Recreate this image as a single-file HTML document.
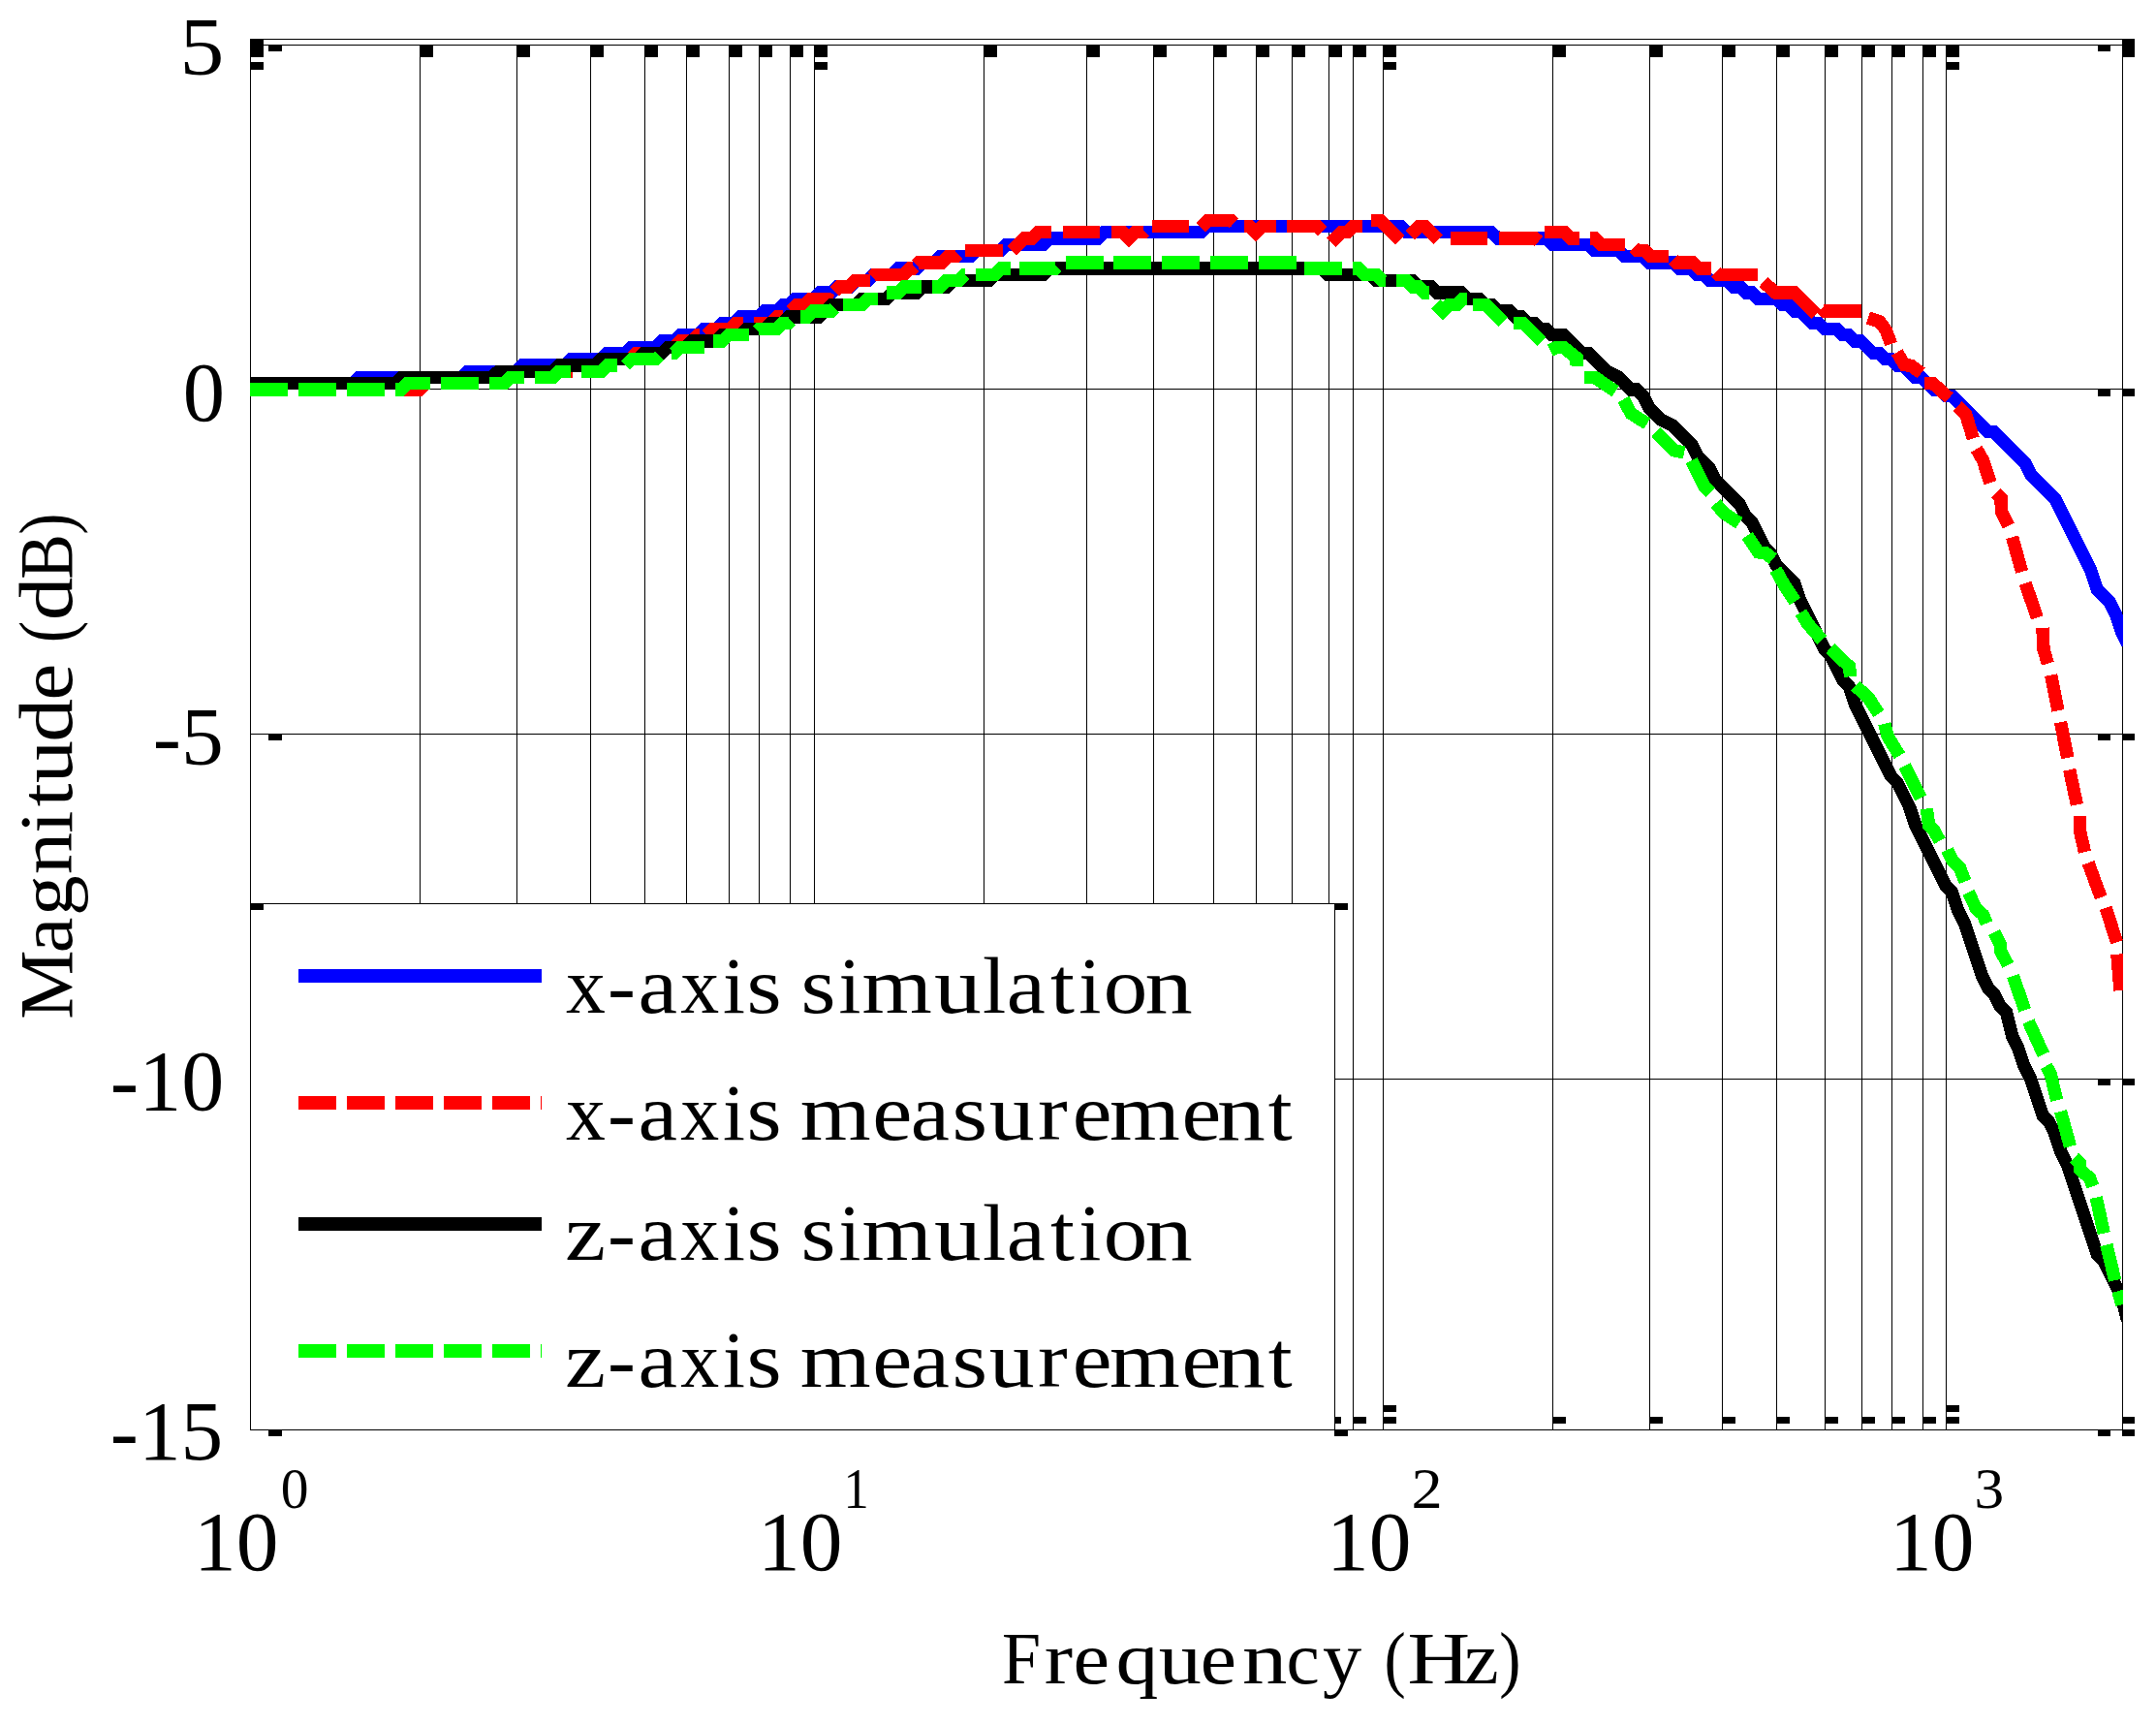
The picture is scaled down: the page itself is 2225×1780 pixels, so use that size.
<!DOCTYPE html>
<html><head><meta charset="utf-8"><title>Frequency response</title>
<style>html,body{margin:0;padding:0;background:#fff}svg{display:block}</style></head>
<body>
<svg xmlns="http://www.w3.org/2000/svg" width="2225" height="1780" viewBox="0 0 2225 1780">
<rect x="0" y="0" width="2225" height="1780" fill="#fff"/>
<g shape-rendering="crispEdges" fill="#000">
<rect x="433" y="46" width="1" height="1429" fill="#000"/>
<rect x="533" y="46" width="1" height="1429" fill="#000"/>
<rect x="609" y="46" width="1" height="1429" fill="#000"/>
<rect x="665" y="46" width="1" height="1429" fill="#000"/>
<rect x="708" y="46" width="1" height="1429" fill="#000"/>
<rect x="752" y="46" width="1" height="1429" fill="#000"/>
<rect x="783" y="46" width="1" height="1429" fill="#000"/>
<rect x="815" y="46" width="1" height="1429" fill="#000"/>
<rect x="1015" y="46" width="1" height="1429" fill="#000"/>
<rect x="1121" y="46" width="1" height="1429" fill="#000"/>
<rect x="1190" y="46" width="1" height="1429" fill="#000"/>
<rect x="1252" y="46" width="1" height="1429" fill="#000"/>
<rect x="1296" y="46" width="1" height="1429" fill="#000"/>
<rect x="1333" y="46" width="1" height="1429" fill="#000"/>
<rect x="1371" y="46" width="1" height="1429" fill="#000"/>
<rect x="1396" y="46" width="1" height="1429" fill="#000"/>
<rect x="1602" y="46" width="1" height="1429" fill="#000"/>
<rect x="1702" y="46" width="1" height="1429" fill="#000"/>
<rect x="1777" y="46" width="1" height="1429" fill="#000"/>
<rect x="1833" y="46" width="1" height="1429" fill="#000"/>
<rect x="1883" y="46" width="1" height="1429" fill="#000"/>
<rect x="1921" y="46" width="1" height="1429" fill="#000"/>
<rect x="1952" y="46" width="1" height="1429" fill="#000"/>
<rect x="1984" y="46" width="1" height="1429" fill="#000"/>
<rect x="840" y="46" width="1" height="1429" fill="#000"/>
<rect x="1427" y="46" width="1" height="1429" fill="#000"/>
<rect x="2008" y="46" width="1" height="1429" fill="#000"/>
<rect x="258" y="46" width="1932" height="1" fill="#000"/>
<rect x="258" y="401" width="1932" height="1" fill="#000"/>
<rect x="258" y="757" width="1932" height="1" fill="#000"/>
<rect x="258" y="1113" width="1932" height="1" fill="#000"/>
<rect x="258" y="40" width="1933" height="1" fill="#000"/>
<rect x="258" y="1475" width="1933" height="1" fill="#000"/>
<rect x="258" y="40" width="1" height="1436" fill="#000"/>
<rect x="2190" y="40" width="1" height="1436" fill="#000"/>
<rect x="433" y="46" width="14" height="13" fill="#000"/>
<rect x="533" y="46" width="14" height="13" fill="#000"/>
<rect x="609" y="46" width="14" height="13" fill="#000"/>
<rect x="665" y="46" width="14" height="13" fill="#000"/>
<rect x="708" y="46" width="14" height="13" fill="#000"/>
<rect x="752" y="46" width="14" height="13" fill="#000"/>
<rect x="783" y="46" width="14" height="13" fill="#000"/>
<rect x="815" y="46" width="14" height="13" fill="#000"/>
<rect x="1015" y="46" width="14" height="13" fill="#000"/>
<rect x="1121" y="46" width="14" height="13" fill="#000"/>
<rect x="1190" y="46" width="14" height="13" fill="#000"/>
<rect x="1252" y="46" width="14" height="13" fill="#000"/>
<rect x="1296" y="46" width="14" height="13" fill="#000"/>
<rect x="1333" y="46" width="14" height="13" fill="#000"/>
<rect x="1371" y="46" width="14" height="13" fill="#000"/>
<rect x="1396" y="46" width="14" height="13" fill="#000"/>
<rect x="1602" y="46" width="14" height="13" fill="#000"/>
<rect x="1702" y="46" width="14" height="13" fill="#000"/>
<rect x="1777" y="46" width="14" height="13" fill="#000"/>
<rect x="1833" y="46" width="14" height="13" fill="#000"/>
<rect x="1883" y="46" width="14" height="13" fill="#000"/>
<rect x="1921" y="46" width="14" height="13" fill="#000"/>
<rect x="1952" y="46" width="14" height="13" fill="#000"/>
<rect x="1984" y="46" width="14" height="13" fill="#000"/>
<rect x="840" y="46" width="14" height="13" fill="#000"/>
<rect x="1427" y="46" width="14" height="13" fill="#000"/>
<rect x="2008" y="46" width="14" height="13" fill="#000"/>
<rect x="840" y="64" width="14" height="8" fill="#000"/>
<rect x="1427" y="64" width="14" height="8" fill="#000"/>
<rect x="2008" y="64" width="14" height="8" fill="#000"/>
<rect x="258" y="40" width="14" height="19" fill="#000"/>
<rect x="258" y="64" width="14" height="8" fill="#000"/>
<rect x="2190" y="40" width="13" height="19" fill="#000"/>
<rect x="277" y="46" width="14" height="7" fill="#000"/>
<rect x="2165" y="46" width="13" height="7" fill="#000"/>
<rect x="1396" y="1462" width="14" height="7" fill="#000"/>
<rect x="1602" y="1462" width="14" height="7" fill="#000"/>
<rect x="1702" y="1462" width="14" height="7" fill="#000"/>
<rect x="1777" y="1462" width="14" height="7" fill="#000"/>
<rect x="1833" y="1462" width="14" height="7" fill="#000"/>
<rect x="1883" y="1462" width="14" height="7" fill="#000"/>
<rect x="1921" y="1462" width="14" height="7" fill="#000"/>
<rect x="1952" y="1462" width="14" height="7" fill="#000"/>
<rect x="1984" y="1462" width="14" height="7" fill="#000"/>
<rect x="1427" y="1462" width="14" height="7" fill="#000"/>
<rect x="2008" y="1462" width="14" height="7" fill="#000"/>
<rect x="1427" y="1450" width="14" height="7" fill="#000"/>
<rect x="2008" y="1450" width="14" height="7" fill="#000"/>
<rect x="2190" y="1462" width="13" height="7" fill="#000"/>
<rect x="2190" y="1475" width="13" height="7" fill="#000"/>
<rect x="2165" y="1475" width="13" height="7" fill="#000"/>
<rect x="277" y="1475" width="14" height="7" fill="#000"/>
<rect x="2165" y="401" width="13" height="8" fill="#000"/>
<rect x="2190" y="401" width="13" height="8" fill="#000"/>
<rect x="2165" y="757" width="13" height="7" fill="#000"/>
<rect x="2190" y="757" width="13" height="7" fill="#000"/>
<rect x="2165" y="1113" width="13" height="7" fill="#000"/>
<rect x="2190" y="1113" width="13" height="7" fill="#000"/>
<rect x="277" y="757" width="14" height="7" fill="#000"/>
</g>
<defs><clipPath id="cp"><rect x="258" y="40" width="1933" height="1435"/></clipPath></defs>
<g clip-path="url(#cp)" fill="none" stroke-width="13.36" stroke-linejoin="miter" stroke-miterlimit="4" stroke-linecap="butt" shape-rendering="crispEdges">
<polyline stroke="#00f" points="258.00,395.70 364.25,395.70 370.50,389.46 476.75,389.46 483.00,383.22 533.00,383.22 539.25,376.98 583.00,376.98 589.25,370.74 620.50,370.74 626.75,364.50 645.50,364.50 651.75,358.26 676.75,358.26 683.00,352.02 695.50,352.02 701.75,345.78 720.50,345.78 726.75,339.54 739.25,339.54 745.50,333.30 758.00,333.30 764.25,327.06 783.00,327.06 789.25,320.82 801.75,320.82 808.00,314.58 814.25,314.58 820.50,308.34 839.25,308.34 845.50,302.10 858.00,302.10 864.25,295.86 876.75,295.86 883.00,289.62 895.50,289.62 901.75,283.38 920.50,283.38 926.75,277.14 945.50,277.14 951.75,270.90 964.25,270.90 970.50,264.66 1001.75,264.66 1008.00,258.42 1033.00,258.42 1039.25,252.18 1076.75,252.18 1083.00,245.94 1133.00,245.94 1139.25,239.70 1239.25,239.70 1245.50,233.46 1445.50,233.46 1451.75,239.70 1539.25,239.70 1545.50,245.94 1595.50,245.94 1601.75,252.18 1639.25,252.18 1645.50,258.42 1670.50,258.42 1676.75,264.66 1695.50,264.66 1701.75,270.90 1726.75,270.90 1733.00,277.14 1745.50,277.14 1751.75,283.38 1758.00,283.38 1764.25,289.62 1783.00,289.62 1789.25,295.86 1795.50,295.86 1801.75,302.10 1808.00,302.10 1814.25,308.34 1833.00,308.34 1839.25,314.58 1845.50,314.58 1851.75,320.82 1858.00,320.82 1864.25,327.06 1870.50,333.30 1876.75,333.30 1883.00,339.54 1895.50,339.54 1901.75,345.78 1908.00,345.78 1914.25,352.02 1920.50,352.02 1926.75,358.26 1933.00,364.50 1939.25,364.50 1945.50,370.74 1951.75,370.74 1958.00,376.98 1964.25,376.98 1970.50,383.22 1976.75,389.46 1983.00,389.46 1989.25,395.70 1995.50,401.94 2001.75,401.94 2008.00,408.18 2014.25,408.18 2020.50,414.42 2026.75,420.66 2033.00,426.90 2039.25,433.14 2045.50,439.38 2051.75,445.62 2058.00,445.62 2064.25,451.86 2070.50,458.10 2076.75,464.34 2083.00,470.58 2089.25,476.82 2095.50,489.30 2101.75,495.54 2108.00,501.78 2114.25,508.02 2120.50,514.26 2126.75,526.74 2133.00,539.22 2139.25,551.70 2145.50,564.18 2151.75,576.66 2158.00,589.14 2164.25,607.86 2170.50,614.10 2176.75,620.34 2183.00,632.82 2189.25,651.54 2195.50,664.02"/>
<polyline stroke="#f00" points="408.00,401.94 433.00,401.94 437.38,397.57"/>
<polyline stroke="#f00" points="586.75,383.22 591.12,383.22"/>
<polyline stroke="#f00" points="639.25,370.74 649.88,370.74 656.12,364.50 670.50,364.50"/>
<polyline stroke="#f00" points="695.50,358.26 701.75,352.02 714.25,352.02 720.50,345.78 722.38,345.78"/>
<polyline stroke="#f00" points="729.25,345.78 735.50,339.54 753.62,339.54 759.88,333.30 766.75,333.30"/>
<polyline stroke="#f00" points="778.00,333.30 795.50,333.30 801.75,327.06 808.00,327.06 810.50,324.56"/>
<polyline stroke="#f00" points="816.12,320.82 822.38,314.58 830.50,314.58 836.75,308.34 854.88,308.34 858.00,310.21"/>
<polyline stroke="#f00" points="861.12,300.85 866.12,295.86 876.12,295.86 882.38,289.62 898.00,289.62"/>
<polyline stroke="#f00" points="900.50,285.88 903.00,283.38 932.38,283.38 938.62,277.14 941.75,277.14 943.94,274.96"/>
<polyline stroke="#f00" points="945.81,273.08 948.00,270.90 971.75,270.90 978.00,264.66 986.12,264.66 988.62,262.16"/>
<polyline stroke="#f00" points="996.12,258.42 1034.88,258.42"/>
<polyline stroke="#f00" points="1044.25,258.42 1056.75,245.94 1064.88,245.94 1071.12,239.70 1084.88,239.70"/>
<polyline stroke="#f00" points="1097.38,239.70 1134.88,239.70"/>
<polyline stroke="#f00" points="1147.38,239.70 1158.62,239.70 1164.88,245.94 1171.12,239.70 1179.88,239.70 1180.81,238.76"/>
<polyline stroke="#f00" points="1189.25,233.46 1226.75,233.46"/>
<polyline stroke="#f00" points="1239.62,234.65 1247.06,227.22 1270.50,227.22 1273.62,230.34"/>
<polyline stroke="#f00" points="1284.25,233.46 1289.88,233.46 1296.12,239.70 1302.38,233.46 1316.75,233.46"/>
<polyline stroke="#f00" points="1328.00,233.46 1359.25,233.46 1364.88,239.08"/>
<polyline stroke="#f00" points="1373.62,250.31 1384.25,239.70 1389.88,239.70 1396.12,233.46 1406.12,233.46"/>
<polyline stroke="#f00" points="1414.88,227.22 1424.25,227.22 1444.88,247.81"/>
<polyline stroke="#f00" points="1454.88,242.82 1464.25,233.46 1470.50,233.46 1484.25,247.19"/>
<polyline stroke="#f00" points="1496.75,245.94 1534.88,245.94"/>
<polyline stroke="#f00" points="1546.75,245.94 1584.25,245.94 1588.00,249.06"/>
<polyline stroke="#f00" points="1593.62,239.70 1614.88,239.70 1621.12,245.94 1629.88,245.94"/>
<polyline stroke="#f00" points="1641.12,245.94 1646.12,245.94 1652.38,252.18 1676.75,252.18"/>
<polyline stroke="#f00" points="1686.12,255.30 1689.25,258.42 1697.38,258.42 1703.62,264.66 1721.75,264.66"/>
<polyline stroke="#f00" points="1726.75,267.78 1729.88,270.90 1747.38,270.90 1753.62,277.14 1765.50,277.14"/>
<polyline stroke="#f00" points="1771.12,280.88 1773.62,283.38 1813.62,283.38"/>
<polyline stroke="#f00" points="1819.88,290.87 1832.38,302.10 1851.75,302.10 1874.25,324.56"/>
<polyline stroke="#f00" points="1879.88,318.32 1882.37,320.82 1921.13,320.82"/>
<polyline stroke="#f00" points="1928.00,328.00 1940.00,332.00 1946.50,341.00 1951.50,355.00"/>
<polyline stroke="#f00" points="1957.70,363.40 1965.40,376.60 1972.30,377.30 1982.70,385.00"/>
<polyline stroke="#f00" points="1986.20,395.40 1994.60,395.40 2011.50,410.70"/>
<polyline stroke="#f00" points="2020.00,419.20 2028.70,427.40 2036.30,452.40"/>
<polyline stroke="#f00" points="2039.70,463.30 2046.30,474.70 2054.00,498.10"/>
<polyline stroke="#f00" points="2059.80,508.70 2065.10,513.70 2065.30,527.60 2072.80,542.60"/>
<polyline stroke="#f00" points="2076.60,554.30 2086.60,590.00"/>
<polyline stroke="#f00" points="2090.20,601.90 2102.30,637.30"/>
<polyline stroke="#f00" points="2107.90,647.80 2109.00,670.10 2113.30,684.70"/>
<polyline stroke="#f00" points="2116.70,696.60 2124.00,733.40"/>
<polyline stroke="#f00" points="2126.50,745.30 2133.80,782.00"/>
<polyline stroke="#f00" points="2135.70,794.30 2143.40,830.40"/>
<polyline stroke="#f00" points="2146.40,842.10 2146.80,858.80 2151.50,879.20"/>
<polyline stroke="#f00" points="2155.10,890.40 2168.20,926.00"/>
<polyline stroke="#f00" points="2173.20,936.70 2184.50,972.30"/>
<polyline stroke="#f00" points="2184.90,984.70 2188.00,1022.10"/>
<polyline stroke="#000" points="258.00,395.70 408.00,395.70 414.25,389.46 508.00,389.46 514.25,383.22 570.50,383.22 576.75,376.98 614.25,376.98 620.50,370.74 658.00,370.74 664.25,364.50 683.00,364.50 689.25,358.26 708.00,358.26 714.25,352.02 739.25,352.02 745.50,345.78 764.25,345.78 770.50,339.54 789.25,339.54 795.50,333.30 808.00,333.30 814.25,327.06 845.50,327.06 851.75,320.82 858.00,314.58 883.00,314.58 889.25,308.34 914.25,308.34 920.50,302.10 945.50,302.10 951.75,295.86 976.75,295.86 983.00,289.62 1020.50,289.62 1026.75,283.38 1076.75,283.38 1083.00,277.14 1364.25,277.14 1370.50,283.38 1414.25,283.38 1420.50,289.62 1458.00,289.62 1464.25,295.86 1476.75,295.86 1483.00,302.10 1508.00,302.10 1514.25,308.34 1526.75,308.34 1533.00,314.58 1539.25,314.58 1545.50,320.82 1558.00,320.82 1564.25,327.06 1570.50,327.06 1576.75,333.30 1583.00,333.30 1589.25,339.54 1595.50,339.54 1601.75,345.78 1614.25,345.78 1633.00,364.50 1639.25,364.50 1658.00,383.22 1670.50,389.46 1683.00,401.94 1689.25,401.94 1695.50,408.18 1701.75,420.66 1714.25,433.14 1726.75,439.38 1733.00,445.62 1745.50,458.10 1751.75,470.58 1764.25,483.06 1770.50,495.54 1795.50,520.50 1801.75,532.98 1808.00,539.22 1814.25,551.70 1820.50,564.18 1826.75,570.42 1833.00,582.90 1839.25,589.14 1845.50,595.38 1851.75,601.62 1858.00,620.34 1864.25,632.82 1870.50,645.30 1876.75,657.78 1883.00,670.26 1889.25,676.50 1895.50,688.98 1901.75,701.46 1908.00,707.70 1914.25,726.42 1920.50,738.90 1926.75,751.38 1933.00,763.86 1939.25,776.34 1945.50,788.82 1951.75,801.30 1958.00,807.54 1964.25,820.02 1970.50,832.50 1976.75,851.22 1983.00,863.70 1989.25,876.18 1995.50,888.66 2001.75,901.14 2008.00,913.62 2014.25,919.86 2020.50,938.58 2026.75,951.06 2033.00,969.78 2039.25,988.50 2045.50,1007.22 2051.75,1019.70 2058.00,1025.94 2064.25,1038.42 2070.50,1044.66 2076.75,1069.62 2083.00,1082.10 2089.25,1100.82 2095.50,1113.30 2101.75,1132.02 2108.00,1150.74 2114.25,1156.98 2120.50,1169.46 2126.75,1188.18 2133.00,1200.66 2139.25,1219.38 2145.50,1238.10 2151.75,1256.82 2158.00,1275.54 2164.25,1294.26 2170.50,1300.50 2176.75,1312.98 2183.00,1325.46 2189.25,1337.94 2195.50,1362.90"/>
<polyline stroke="#0f0" points="258.00,401.94 297.00,401.94"/>
<polyline stroke="#0f0" points="308.00,401.94 347.00,401.94"/>
<polyline stroke="#0f0" points="358.00,401.94 397.00,401.94"/>
<polyline stroke="#0f0" points="408.00,401.94 414.25,401.94 420.50,395.70 444.42,395.70"/>
<polyline stroke="#0f0" points="454.88,395.70 493.88,395.70"/>
<polyline stroke="#0f0" points="504.88,395.70 520.50,395.70 526.75,389.46 541.29,389.46"/>
<polyline stroke="#0f0" points="552.38,389.46 570.50,389.46 576.75,383.22 588.79,383.22"/>
<polyline stroke="#0f0" points="600.19,383.22 620.50,383.22 626.75,376.98 636.61,376.98"/>
<polyline stroke="#0f0" points="645.50,376.98 651.75,370.74 676.75,370.74 680.41,367.09"/>
<polyline stroke="#0f0" points="693.00,364.50 695.50,364.50 701.75,358.26 726.73,358.26"/>
<polyline stroke="#0f0" points="736.12,352.02 745.50,352.02 751.75,345.78 772.54,345.78"/>
<polyline stroke="#0f0" points="781.75,340.79 783.00,339.54 801.75,339.54 808.00,333.30 814.25,333.30 816.66,330.90"/>
<polyline stroke="#0f0" points="826.12,327.06 833.00,327.06 839.25,320.82 858.00,320.82 861.22,317.61"/>
<polyline stroke="#0f0" points="869.88,314.58 889.25,314.58 895.50,308.34 906.29,308.34"/>
<polyline stroke="#0f0" points="914.88,302.10 926.75,302.10 933.00,295.86 951.29,295.86"/>
<polyline stroke="#0f0" points="961.75,295.86 970.50,295.86 976.75,289.62 989.25,289.62 995.50,283.38 995.59,283.38"/>
<polyline stroke="#0f0" points="1006.75,283.38 1026.75,283.38 1033.00,277.14 1043.17,277.14"/>
<polyline stroke="#0f0" points="1052.38,277.14 1089.25,277.14 1090.75,275.64"/>
<polyline stroke="#0f0" points="1099.88,270.90 1138.88,270.90"/>
<polyline stroke="#0f0" points="1148.62,270.90 1187.62,270.90"/>
<polyline stroke="#0f0" points="1199.25,270.90 1238.25,270.90"/>
<polyline stroke="#0f0" points="1249.25,270.90 1288.25,270.90"/>
<polyline stroke="#0f0" points="1299.25,270.90 1338.25,270.90"/>
<polyline stroke="#0f0" points="1346.12,277.14 1385.12,277.14"/>
<polyline stroke="#0f0" points="1396.12,277.14 1401.75,277.14 1408.00,283.38 1420.50,283.38 1426.75,289.62 1429.96,289.62"/>
<polyline stroke="#0f0" points="1441.12,289.62 1451.75,289.62 1458.00,295.86 1464.25,295.86 1470.50,302.10 1474.96,302.10"/>
<polyline stroke="#0f0" points="1481.75,313.33 1489.25,320.82 1495.50,314.58 1503.62,314.58 1509.88,308.34 1513.62,308.34"/>
<polyline stroke="#0f0" points="1519.88,314.58 1533.62,314.58 1551.12,332.05"/>
<polyline stroke="#0f0" points="1562.06,333.30 1571.75,333.30 1591.12,352.64"/>
<polyline stroke="#0f0" points="1599.70,361.50 1605.90,358.40 1613.60,358.40 1627.50,369.60 1626.80,377.90"/>
<polyline stroke="#0f0" points="1635.10,389.70 1646.30,389.70 1667.10,403.70"/>
<polyline stroke="#0f0" points="1675.50,412.00 1683.10,426.60 1699.80,437.10"/>
<polyline stroke="#0f0" points="1708.90,445.40 1727.70,464.90 1738.10,467.00"/>
<polyline stroke="#0f0" points="1745.80,475.30 1759.00,501.80 1765.20,508.40"/>
<polyline stroke="#0f0" points="1770.40,519.60 1780.00,530.00 1794.80,539.70"/>
<polyline stroke="#0f0" points="1803.20,552.60 1814.70,569.90 1822.00,570.50 1829.70,576.80"/>
<polyline stroke="#0f0" points="1832.40,587.70 1841.80,604.40 1852.60,620.60"/>
<polyline stroke="#0f0" points="1858.50,631.90 1865.80,644.00 1880.40,660.30"/>
<polyline stroke="#0f0" points="1888.80,669.10 1908.60,687.90 1909.60,698.30"/>
<polyline stroke="#0f0" points="1914.80,707.70 1928.40,720.20 1938.80,736.50"/>
<polyline stroke="#0f0" points="1944.90,746.70 1948.20,759.90 1960.30,779.70"/>
<polyline stroke="#0f0" points="1965.40,790.10 1982.30,823.50"/>
<polyline stroke="#0f0" points="1988.30,834.40 1990.70,851.80 1996.70,858.10 2001.80,867.80"/>
<polyline stroke="#0f0" points="2009.70,876.90 2015.40,888.70 2022.40,895.00 2028.00,909.60"/>
<polyline stroke="#0f0" points="2031.30,920.80 2039.40,937.40 2046.70,944.10 2050.20,952.70"/>
<polyline stroke="#0f0" points="2057.90,962.20 2064.10,974.30 2064.80,981.20 2072.20,995.80"/>
<polyline stroke="#0f0" points="2077.40,1007.00 2089.70,1042.40"/>
<polyline stroke="#0f0" points="2093.40,1054.00 2108.90,1088.10"/>
<polyline stroke="#0f0" points="2111.70,1099.90 2116.30,1108.70 2122.60,1135.40"/>
<polyline stroke="#0f0" points="2126.50,1146.80 2136.50,1183.00"/>
<polyline stroke="#0f0" points="2140.50,1194.70 2146.60,1200.50 2146.60,1206.80 2156.70,1215.80 2159.90,1224.20"/>
<polyline stroke="#0f0" points="2163.20,1235.60 2171.30,1272.60"/>
<polyline stroke="#0f0" points="2173.90,1284.50 2182.70,1321.20"/>
<polyline stroke="#0f0" points="2185.90,1332.20 2189.90,1346.20"/>
</g>
<g shape-rendering="crispEdges">
<rect x="258" y="932" width="1120" height="544" fill="#000"/>
<rect x="259" y="933" width="1118" height="542" fill="#fff"/>
<rect x="258" y="932" width="14" height="7" fill="#000"/>
<rect x="1377" y="932" width="14" height="7" fill="#000"/>
<rect x="1377" y="1462" width="7" height="7" fill="#000"/>
<rect x="1377" y="1475" width="14" height="7" fill="#000"/>
<rect x="308" y="1000" width="251" height="14" fill="#00f"/>
<rect x="308" y="1256" width="251" height="14" fill="#000"/>
<rect x="308" y="1131" width="39" height="14" fill="#f00"/>
<rect x="308" y="1387" width="39" height="14" fill="#0f0"/>
<rect x="358" y="1131" width="39" height="14" fill="#f00"/>
<rect x="358" y="1387" width="39" height="14" fill="#0f0"/>
<rect x="408" y="1131" width="39" height="14" fill="#f00"/>
<rect x="408" y="1387" width="39" height="14" fill="#0f0"/>
<rect x="458" y="1131" width="39" height="14" fill="#f00"/>
<rect x="458" y="1387" width="39" height="14" fill="#0f0"/>
<rect x="508" y="1131" width="39" height="14" fill="#f00"/>
<rect x="508" y="1387" width="39" height="14" fill="#0f0"/>
<rect x="558" y="1131" width="1" height="14" fill="#f00"/>
<rect x="558" y="1387" width="1" height="14" fill="#0f0"/>
</g>
<g font-family="'Liberation Serif', serif" fill="#000">
<text transform="translate(185.47,76.98) scale(1.1061,1.0182)" font-size="83px" xml:space="preserve">5</text>
<text transform="translate(188.87,434.46) scale(1.0429,1.0446)" font-size="83px" xml:space="preserve">0</text>
<text transform="translate(157.83,788.98) scale(1.0556,1.0182)" font-size="83px" xml:space="preserve">-5</text>
<text transform="translate(113.81,1145.44) scale(1.0619,1.0636)" font-size="83px" xml:space="preserve">-10</text>
<text transform="translate(113.84,1505.96) scale(1.0524,1.0364)" font-size="83px" xml:space="preserve">-15</text>
<text transform="translate(200.03,1619.96) scale(1.0534,1.0357)" font-size="83px" xml:space="preserve">10</text>
<text transform="translate(289.72,1556.29) scale(0.9920,1.0077)" font-size="58px" xml:space="preserve">0</text>
<text transform="translate(782.03,1619.96) scale(1.0534,1.0357)" font-size="83px" xml:space="preserve">10</text>
<text transform="translate(870.48,1556.00) scale(0.9048,1.0263)" font-size="58px" xml:space="preserve">1</text>
<text transform="translate(1369.03,1619.96) scale(1.0534,1.0357)" font-size="83px" xml:space="preserve">10</text>
<text transform="translate(1456.47,1556.00) scale(1.1087,1.0053)" font-size="58px" xml:space="preserve">2</text>
<text transform="translate(1950.03,1619.96) scale(1.0534,1.0357)" font-size="83px" xml:space="preserve">10</text>
<text transform="translate(2037.62,1555.97) scale(1.0583,1.0256)" font-size="58px" xml:space="preserve">3</text>
<text transform="translate(0.00,1737.08) scale(1.0000,0.9718)" font-size="78px" xml:space="preserve"><tspan x="1033.95" textLength="40.05" lengthAdjust="spacingAndGlyphs">F</tspan><tspan x="1077.74" textLength="29.37" lengthAdjust="spacingAndGlyphs">r</tspan><tspan x="1107.54" textLength="37.61" lengthAdjust="spacingAndGlyphs">e</tspan><tspan x="1151.52" textLength="43.9" lengthAdjust="spacingAndGlyphs">q</tspan><tspan x="1195.77" textLength="44.16" lengthAdjust="spacingAndGlyphs">u</tspan><tspan x="1238.67" textLength="37.25" lengthAdjust="spacingAndGlyphs">e</tspan><tspan x="1282.02" textLength="46.37" lengthAdjust="spacingAndGlyphs">n</tspan><tspan x="1327.43" textLength="34.27" lengthAdjust="spacingAndGlyphs">c</tspan><tspan x="1364.97" textLength="40.23" lengthAdjust="spacingAndGlyphs">y</tspan><tspan x="1408.93"> </tspan><tspan x="1428.43" textLength="22.27" lengthAdjust="spacingAndGlyphs">(</tspan><tspan x="1452.51" textLength="64.58" lengthAdjust="spacingAndGlyphs">H</tspan><tspan x="1510.94" textLength="35.66" lengthAdjust="spacingAndGlyphs">z</tspan><tspan x="1547.19" textLength="22.27" lengthAdjust="spacingAndGlyphs">)</tspan></text>
<text transform="translate(73.95,1050.00) rotate(-90) scale(1.0000,1.0028)" font-size="78px" xml:space="preserve"><tspan x="-1.86" textLength="71.49" lengthAdjust="spacingAndGlyphs">M</tspan><tspan x="66.6" textLength="36.97" lengthAdjust="spacingAndGlyphs">a</tspan><tspan x="104.89" textLength="41.67" lengthAdjust="spacingAndGlyphs">g</tspan><tspan x="147.68" textLength="43.33" lengthAdjust="spacingAndGlyphs">n</tspan><tspan x="190.37" textLength="23.12" lengthAdjust="spacingAndGlyphs">i</tspan><tspan x="217.8" textLength="23.84" lengthAdjust="spacingAndGlyphs">t</tspan><tspan x="241.66" textLength="44.38" lengthAdjust="spacingAndGlyphs">u</tspan><tspan x="284.25" textLength="44.79" lengthAdjust="spacingAndGlyphs">d</tspan><tspan x="327.54" textLength="37.61" lengthAdjust="spacingAndGlyphs">e</tspan><tspan x="367.21"> </tspan><tspan x="386.71" textLength="22.4" lengthAdjust="spacingAndGlyphs">(</tspan><tspan x="409.77" textLength="44.57" lengthAdjust="spacingAndGlyphs">d</tspan><tspan x="452.21" textLength="46.6" lengthAdjust="spacingAndGlyphs">B</tspan><tspan x="498.51" textLength="21.9" lengthAdjust="spacingAndGlyphs">)</tspan></text>
<text transform="translate(0.00,1045.00) scale(1.0000,1.0000)" font-size="83px" xml:space="preserve"><tspan x="583.91" textLength="40.88" lengthAdjust="spacingAndGlyphs">x</tspan><tspan x="626.96" textLength="28.9" lengthAdjust="spacingAndGlyphs">-</tspan><tspan x="658.6" textLength="40.53" lengthAdjust="spacingAndGlyphs">a</tspan><tspan x="702.34" textLength="39.94" lengthAdjust="spacingAndGlyphs">x</tspan><tspan x="746.01" textLength="22.95" lengthAdjust="spacingAndGlyphs">i</tspan><tspan x="770.64" textLength="36.17" lengthAdjust="spacingAndGlyphs">s</tspan><tspan x="805.8"> </tspan><tspan x="826.55" textLength="36.04" lengthAdjust="spacingAndGlyphs">s</tspan><tspan x="865.41" textLength="22.95" lengthAdjust="spacingAndGlyphs">i</tspan><tspan x="889.56" textLength="72.29" lengthAdjust="spacingAndGlyphs">m</tspan><tspan x="964.02" textLength="48.84" lengthAdjust="spacingAndGlyphs">u</tspan><tspan x="1013.99" textLength="24.28" lengthAdjust="spacingAndGlyphs">l</tspan><tspan x="1038.74" textLength="40.08" lengthAdjust="spacingAndGlyphs">a</tspan><tspan x="1083.92" textLength="24.95" lengthAdjust="spacingAndGlyphs">t</tspan><tspan x="1113.39" textLength="23.18" lengthAdjust="spacingAndGlyphs">i</tspan><tspan x="1138.81" textLength="45.53" lengthAdjust="spacingAndGlyphs">o</tspan><tspan x="1181.53" textLength="49.25" lengthAdjust="spacingAndGlyphs">n</tspan></text>
<text transform="translate(0.00,1176.00) scale(1.0000,1.0000)" font-size="83px" xml:space="preserve"><tspan x="583.91" textLength="40.88" lengthAdjust="spacingAndGlyphs">x</tspan><tspan x="626.96" textLength="28.9" lengthAdjust="spacingAndGlyphs">-</tspan><tspan x="658.6" textLength="40.53" lengthAdjust="spacingAndGlyphs">a</tspan><tspan x="702.34" textLength="39.94" lengthAdjust="spacingAndGlyphs">x</tspan><tspan x="746.01" textLength="22.95" lengthAdjust="spacingAndGlyphs">i</tspan><tspan x="770.64" textLength="36.17" lengthAdjust="spacingAndGlyphs">s</tspan><tspan x="805.09"> </tspan><tspan x="825.84" textLength="72.92" lengthAdjust="spacingAndGlyphs">m</tspan><tspan x="900.35" textLength="41.12" lengthAdjust="spacingAndGlyphs">e</tspan><tspan x="939.73" textLength="40.19" lengthAdjust="spacingAndGlyphs">a</tspan><tspan x="982.5" textLength="36.66" lengthAdjust="spacingAndGlyphs">s</tspan><tspan x="1020.77" textLength="46.93" lengthAdjust="spacingAndGlyphs">u</tspan><tspan x="1070.98" textLength="30.74" lengthAdjust="spacingAndGlyphs">r</tspan><tspan x="1106.68" textLength="40.77" lengthAdjust="spacingAndGlyphs">e</tspan><tspan x="1144.94" textLength="72.82" lengthAdjust="spacingAndGlyphs">m</tspan><tspan x="1219.58" textLength="40.77" lengthAdjust="spacingAndGlyphs">e</tspan><tspan x="1255.9" textLength="49.8" lengthAdjust="spacingAndGlyphs">n</tspan><tspan x="1308.72" textLength="24.95" lengthAdjust="spacingAndGlyphs">t</tspan></text>
<text transform="translate(0.00,1300.30) scale(1.0000,1.0000)" font-size="83px" xml:space="preserve"><tspan x="582.92" textLength="42.09" lengthAdjust="spacingAndGlyphs">z</tspan><tspan x="626.96" textLength="28.9" lengthAdjust="spacingAndGlyphs">-</tspan><tspan x="658.6" textLength="40.53" lengthAdjust="spacingAndGlyphs">a</tspan><tspan x="702.34" textLength="39.94" lengthAdjust="spacingAndGlyphs">x</tspan><tspan x="746.01" textLength="22.95" lengthAdjust="spacingAndGlyphs">i</tspan><tspan x="770.64" textLength="36.17" lengthAdjust="spacingAndGlyphs">s</tspan><tspan x="805.8"> </tspan><tspan x="826.55" textLength="36.04" lengthAdjust="spacingAndGlyphs">s</tspan><tspan x="865.41" textLength="22.95" lengthAdjust="spacingAndGlyphs">i</tspan><tspan x="889.56" textLength="72.29" lengthAdjust="spacingAndGlyphs">m</tspan><tspan x="964.02" textLength="48.84" lengthAdjust="spacingAndGlyphs">u</tspan><tspan x="1013.99" textLength="24.28" lengthAdjust="spacingAndGlyphs">l</tspan><tspan x="1038.74" textLength="40.08" lengthAdjust="spacingAndGlyphs">a</tspan><tspan x="1083.92" textLength="24.95" lengthAdjust="spacingAndGlyphs">t</tspan><tspan x="1113.39" textLength="23.18" lengthAdjust="spacingAndGlyphs">i</tspan><tspan x="1138.81" textLength="45.53" lengthAdjust="spacingAndGlyphs">o</tspan><tspan x="1181.53" textLength="49.25" lengthAdjust="spacingAndGlyphs">n</tspan></text>
<text transform="translate(0.00,1431.00) scale(1.0000,1.0000)" font-size="83px" xml:space="preserve"><tspan x="582.92" textLength="42.09" lengthAdjust="spacingAndGlyphs">z</tspan><tspan x="626.96" textLength="28.9" lengthAdjust="spacingAndGlyphs">-</tspan><tspan x="658.6" textLength="40.53" lengthAdjust="spacingAndGlyphs">a</tspan><tspan x="702.34" textLength="39.94" lengthAdjust="spacingAndGlyphs">x</tspan><tspan x="746.01" textLength="22.95" lengthAdjust="spacingAndGlyphs">i</tspan><tspan x="770.64" textLength="36.17" lengthAdjust="spacingAndGlyphs">s</tspan><tspan x="805.09"> </tspan><tspan x="825.84" textLength="72.92" lengthAdjust="spacingAndGlyphs">m</tspan><tspan x="900.35" textLength="41.12" lengthAdjust="spacingAndGlyphs">e</tspan><tspan x="939.73" textLength="40.19" lengthAdjust="spacingAndGlyphs">a</tspan><tspan x="982.5" textLength="36.66" lengthAdjust="spacingAndGlyphs">s</tspan><tspan x="1020.77" textLength="46.93" lengthAdjust="spacingAndGlyphs">u</tspan><tspan x="1070.98" textLength="30.74" lengthAdjust="spacingAndGlyphs">r</tspan><tspan x="1106.68" textLength="40.77" lengthAdjust="spacingAndGlyphs">e</tspan><tspan x="1144.94" textLength="72.82" lengthAdjust="spacingAndGlyphs">m</tspan><tspan x="1219.58" textLength="40.77" lengthAdjust="spacingAndGlyphs">e</tspan><tspan x="1255.9" textLength="49.8" lengthAdjust="spacingAndGlyphs">n</tspan><tspan x="1308.72" textLength="24.95" lengthAdjust="spacingAndGlyphs">t</tspan></text>
</g>
</svg>
</body></html>
